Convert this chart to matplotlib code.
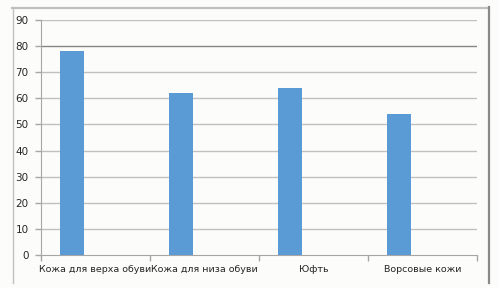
import matplotlib
matplotlib.use("Agg")
import matplotlib.pyplot as plt
from matplotlib.lines import Line2D

categories = ["Кожа для верха обуви", "Кожа для низа обуви", "Юфть", "Ворсовые кожи"]
values = [78, 62, 64, 54]
yticks = [0, 10, 20, 30, 40, 50, 60, 70, 80, 90]

fig = plt.figure(figsize=(4.99, 2.88), dpi=100, facecolor="#FCFDFB")
ax = fig.add_axes([41/499, 33/288, 436/499, 235/288])
ax.set_facecolor("#FCFDFB")

x = list(range(len(categories)))
bx = [i - 0.216 for i in x]
ax.bar(bx, values, width=0.22, color="#5B9BD5", zorder=3)

ax.set_xlim(-0.5, len(categories) - 0.5)
ax.set_ylim(0, 90)
ax.set_yticks(yticks)
ax.set_yticklabels([str(v) for v in yticks])
for v in yticks[1:]:
    c = "#868686" if v == 80 else "#C0C0C0"
    ax.axhline(v, color=c, lw=1, zorder=1)

ax.set_xticks(x)
ax.set_xticklabels(categories)
ax.set_xticks([i - 0.5 for i in range(len(categories) + 1)], minor=True)
ax.tick_params(axis="x", which="major", length=0, pad=7, labelsize=6.8, colors="#262626")
ax.tick_params(axis="x", which="minor", length=4, color="#A6A6A6", width=1)
ax.tick_params(axis="y", length=4, color="#A6A6A6", width=1, pad=5, labelsize=7.5, labelcolor="#262626")

for s in ["top", "right"]:
    ax.spines[s].set_visible(False)
ax.spines["left"].set_color("#A6A6A6")
ax.spines["bottom"].set_color("#A6A6A6")

# outer chart border
fig.add_artist(Line2D([12.5/499, 12.5/499], [1 - 7/288, 1 - 283/288], transform=fig.transFigure, color="#C0C0C0", lw=1))
fig.add_artist(Line2D([12/499, 489/499], [1 - 7.5/288, 1 - 7.5/288], transform=fig.transFigure, color="#C0C0C0", lw=1.6))
fig.add_artist(Line2D([489/499, 489/499], [1 - 7/288, 1 - 283/288], transform=fig.transFigure, color="#8A8A8A", lw=1.6))

fig.savefig("out.png", dpi=100, facecolor=fig.get_facecolor())
